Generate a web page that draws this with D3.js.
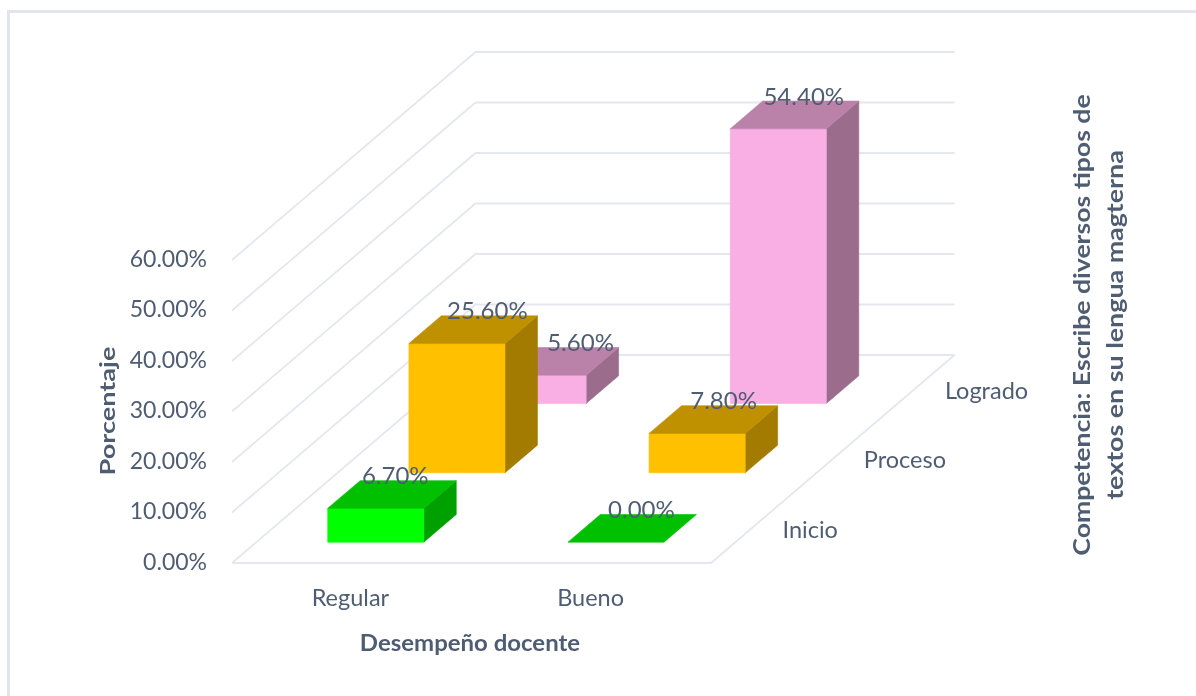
<!DOCTYPE html>
<html><head><meta charset="utf-8">
<script src="https://cdn.jsdelivr.net/npm/d3@7"></script>
<style>
html,body{margin:0;padding:0;background:#fff}
svg{display:block}
#c{filter:blur(0.4px)}
text{font-family:Lato,Carlito,sans-serif;fill:#4f5d73}
</style></head><body>
<svg id="c" width="1196" height="696"></svg>
<script>
const categories = ["Regular","Bueno"];
const seriesNames = ["Inicio","Proceso","Logrado"];
const inicio = [6.7,0.0];
const proceso = [25.6,7.8];
const logrado = [5.6,54.4];
const yTicks = [0,10,20,30,40,50,60];
const frontColors = ["#00ff00","#ffc000","#f9aee4"];
const topColors = ["#00c000","#bf9000","#ba82a9"];
const sideColors = ["#00a000","#a37b00","#9b6c8c"];
// per-label horizontal nudge, indexed [series][category]
const labelShift = [[-13,-7],[-2,-6],[10,-7]];

const values = [inicio,proceso,logrado];
const svg = d3.select("#c");
const gridColor = "#e5e7ee";

const floorW = 479, depthX = 243.5, depthY = 208, originX = 232, originY = 563;
const x = d3.scaleBand().domain(categories).range([-0.7,floorW+0.7]).paddingInner(0.6).paddingOuter(0.3);
const z = d3.scaleBand().domain(seriesNames).range([0,1]).paddingInner(0.6).paddingOuter(0.3);
const y = d3.scaleLinear().domain([0,60]).range([0,303]);
const P = (px,d,v) => [originX+px+depthX*d, originY-depthY*d-y(v)];
const line = d3.line();

// frame
svg.append("path").attr("d","M8.5,696V11.5H1196").attr("fill","none").attr("stroke","#e1e4ec").attr("stroke-width",3);

// walls
const grid = svg.append("g").attr("fill","none").attr("stroke",gridColor).attr("stroke-width",1.8);
yTicks.forEach(t=>{
  grid.append("path").attr("d",line([P(0,0,t),P(0,1,t),P(floorW,1,t)]));
});
grid.append("path").attr("d",line([P(0,0,0),P(floorW,0,0),P(floorW,1,0)]));

// bars, back to front
const bars = svg.append("g");
d3.range(seriesNames.length-1,-1,-1).forEach(s=>{
  const name = seriesNames[s], d0=z(name), d1=d0+z.bandwidth();
  categories.forEach((c,i)=>{
    const v = values[s][i], x0=x(c), x1=x0+x.bandwidth();
    const g = bars.append("g");
    const poly=(pts,col)=>g.append("path").attr("d",line(pts)+"Z").attr("fill",col).attr("stroke",col).attr("stroke-width",0.6);
    if(v>0){
      poly([P(x1,d0,0),P(x1,d1,0),P(x1,d1,v),P(x1,d0,v)],sideColors[s]);
      poly([P(x0,d0,0),P(x1,d0,0),P(x1,d0,v),P(x0,d0,v)],frontColors[s]);
    }
    poly([P(x0,d0,v),P(x1,d0,v),P(x1,d1,v),P(x0,d1,v)],topColors[s]);
  });
});

// data labels
seriesNames.forEach((name,s)=>{
  categories.forEach((c,i)=>{
    const v=values[s][i];
    const p=P(x(c)+x.bandwidth()/2,z(name)+z.bandwidth(),v);
    svg.append("text").attr("x",p[0]+labelShift[s][i])
      .attr("y",p[1]-5).attr("dy","0.36em").attr("text-anchor","middle")
      .style("font-size","24px").text(v.toFixed(2)+"%");
  });
});

// value axis
const yAxis = d3.scaleLinear().domain([0,60]).range([originY-1,originY-1-303]);
const ax = svg.append("g").attr("transform",`translate(${originX-25},0)`)
  .call(d3.axisLeft(yAxis).tickValues(yTicks).tickSize(0).tickPadding(0).tickFormat(d=>d.toFixed(2)+"%"));
ax.select(".domain").remove();
ax.selectAll("text").style("font-size","23px").style("font-family","Lato,sans-serif").attr("fill","#4f5d73");

// category labels
categories.forEach(c=>{
  svg.append("text").attr("x",originX+x(c)+x.bandwidth()/2-1).attr("y",598).attr("dy","0.36em")
    .attr("text-anchor","middle").style("font-size","23.5px").text(c);
});
// series labels
seriesNames.forEach(n=>{
  const p=P(floorW,z(n)+z.bandwidth()/2,0);
  svg.append("text").attr("x",p[0]+31).attr("y",p[1]+1).attr("dy","0.36em")
    .style("font-size","23.5px").text(n);
});

// titles: the reference text is stretched along its reading direction
const title=(t,xx,yy,rot,size,stretch)=>svg.append("text")
  .attr("transform",`translate(${xx},${yy})${rot?" rotate(-90)":""} scale(${stretch},1)`)
  .attr("text-anchor","middle").attr("dy","0.36em").style("font-size",size+"px").style("font-weight",700).text(t);
title("Porcentaje",107,411,true,21,1.29);
title("Desempeño docente",470,643,false,22,1.09);
title("Competencia: Escribe diversos tipos de",1082,325,true,22,1.21);
title("textos en su lengua magterna",1115,325,true,22,1.22);
</script>
</body></html>
